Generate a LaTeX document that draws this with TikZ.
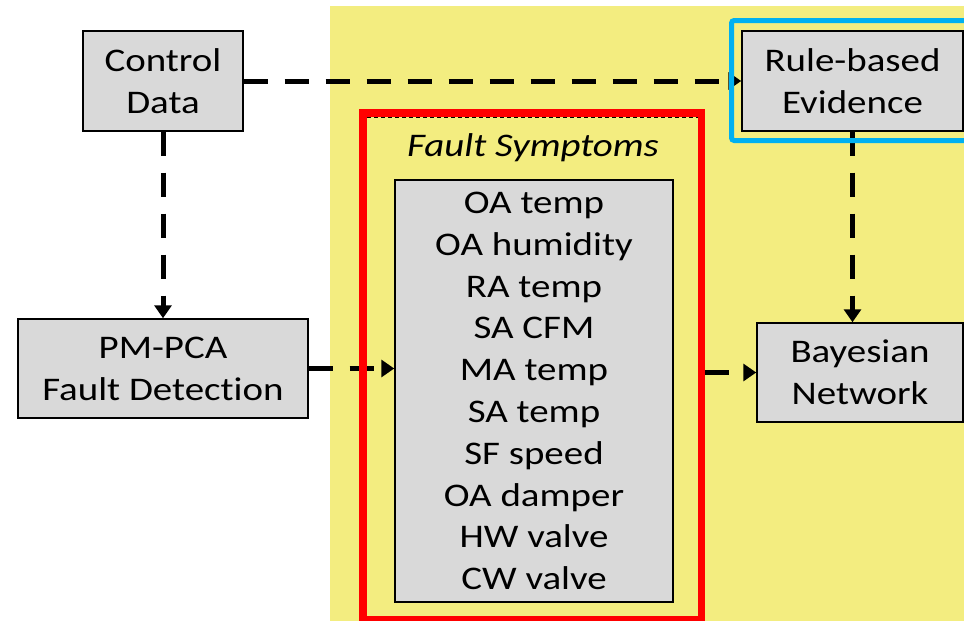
\documentclass[tikz,border=0pt]{standalone}
\usepackage{fontspec}
\setmainfont{Carlito}[FakeStretch=1.18, RawFeature={-liga;-clig;-dlig;-calt}]
\usetikzlibrary{arrows.meta}
\definecolor{panel}{RGB}{243,237,128}
\definecolor{boxgray}{RGB}{217,217,217}
\definecolor{framered}{RGB}{255,0,0}
\definecolor{frameblue}{RGB}{0,176,240}
\begin{document}
\begin{tikzpicture}[x=0.75pt,y=-0.75pt,
  box/.style={draw=black, fill=boxgray, line width=1.1pt, inner sep=0pt,
    align=center, font=\fontsize{24.75}{31.5}\selectfont},
  flow/.style={line width=3.75pt, dash pattern=on 18pt off 12.75pt,
    -{Triangle[length=9.75pt,width=12.75pt]}},
  label/.style={inner sep=0pt, font=\fontsize{24.75}{31.5}\selectfont}]
\useasboundingbox (0,0) rectangle (964,621);

% yellow panel and red symptom frame
\begin{scope}
  \clip (0,0) rectangle (964,621);
  \fill[panel] (330,6) rectangle (990,650);
  \node[draw=framered, line width=5.6pt, inner sep=0pt,
        minimum width=253.9pt, minimum height=380.25pt] (symptoms) at (532.25,366.5) {};
\end{scope}
\draw[line width=0.75pt, dash pattern=on 3pt off 2.25pt] (367,117.5) -- (698,117.5);
\node[label, font=\fontsize{24.75}{31.5}\selectfont\itshape] (title) at (533,148) {Fault Symptoms};

% boxes
\node[box, minimum width=120pt, minimum height=75pt] (ctrl) at (163,81) {Control\\Data};
\node[box, minimum width=165.75pt, minimum height=75pt] (rule) at (852.5,81) {Rule-based\\Evidence};
\node[box, minimum width=217.5pt, minimum height=74.25pt] (pm) at (163,368.5) {PM-PCA\\Fault Detec\kern0pt tion};
\node[box, minimum width=154.5pt, minimum height=74.25pt] (bayes) at (860,372.5) {Bayesian\\Network};
\node[box, minimum width=208.5pt, minimum height=316.5pt,
      font=\fontsize{24.75}{31.35}\selectfont] (list) at (534,391)
  {OA temp\\OA humidity\\RA temp\\SA CFM\\MA temp\\SA temp\\SF speed\\OA damper\\HW valve\\CW valve};

% connectors
\draw[flow] (ctrl.east) -- (rule.west);
\draw[flow] (ctrl.south) -- (pm.north);
\draw[flow] (pm.east) -- (pm.east -| list.west);
\draw[flow] (rule.south) -- (rule.south |- bayes.north);
\draw[flow] (symptoms.east |- bayes.west) -- (bayes.west);

% red frame side drawn again over the incoming arrow
\draw[framered, line width=5.6pt] (363,300) -- (363,440);

% blue frame around the rule box
\begin{scope}
  \clip (0,0) rectangle (964,621);
  \draw[frameblue, line width=3.75pt, rounded corners=2pt] (731.5,20.5) rectangle (990,140.5);
\end{scope}
\end{tikzpicture}
\end{document}
